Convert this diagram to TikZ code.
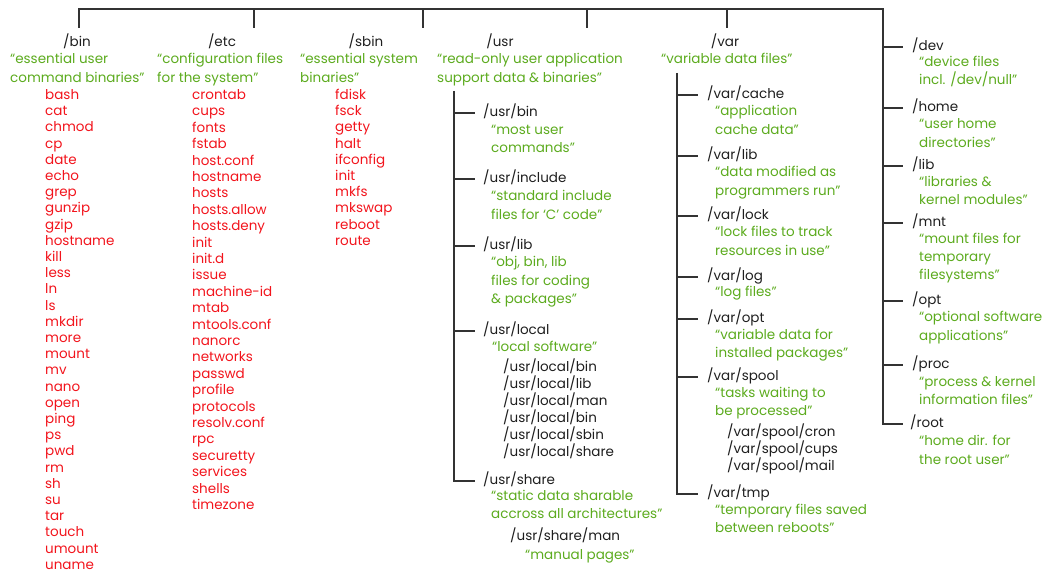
\documentclass[tikz,border=0pt]{standalone}
\usepackage{fontspec}
\setmainfont{Poppins}
\definecolor{gr}{HTML}{5CAB1E}
\definecolor{rd}{HTML}{F2141C}
\definecolor{ln}{HTML}{333333}
\definecolor{tx}{HTML}{1E1E1E}
\tikzset{
  base/.style={inner sep=0pt, font=\fontsize{13.5}{15}\selectfont, text height=10pt, text depth=3pt},
  dir/.style={base, anchor=west, text=tx},
  hdr/.style={base, anchor=center, text=tx},
  desc/.style={base, anchor=west, text=gr},
  itm/.style={base, anchor=west, text=rd},
  br/.style={draw=ln, line width=1.3pt},
}
\begin{document}
\begin{tikzpicture}[x=1pt,y={(0pt,-1pt)}]
\useasboundingbox (0,0) rectangle (1049,575);
% ---------- top bar ----------
\coordinate (d1) at (79,28);
\coordinate (d2) at (254,28);
\coordinate (d3) at (423,28);
\coordinate (d4) at (587,28);
\coordinate (d5) at (727,28);
\coordinate (rtop) at (883,9);
% ---------- /bin ----------
\node[hdr] (bin) at (77,43) {/bin};
\node[desc] (bind1) at (10,60) {“essential user};
\node[desc] (bind2) at (10,79) {command binaries”};
\foreach \t [count=\i from 0] in {bash,cat,chmod,cp,date,echo,grep,gunzip,gzip,hostname,kill,less,ln,ls,mkdir,more,mount,mv,nano,open,ping,ps,pwd,rm,sh,su,tar,touch,umount,uname}
  \node[itm] (bini\i) at (45,96+16.2*\i) {\t};
% ---------- /etc ----------
\node[hdr] (etc) at (222,43) {/etc};
\node[desc] (etcd1) at (157,60) {“configuration files};
\node[desc] (etcd2) at (157,79) {for the system”};
\foreach \t [count=\i from 0] in {crontab,cups,fonts,fstab,host.conf,hostname,hosts,hosts.allow,hosts.deny,init,init.d,issue,machine-id,mtab,mtools.conf,nanorc,networks,passwd,profile,protocols,resolv.conf,rpc,securetty,services,shells,timezone}
  \node[itm] (etci\i) at (192,96+16.4*\i) {\t};
% ---------- /sbin ----------
\node[hdr] (sbin) at (366,43) {/sbin};
\node[desc] (sbind1) at (300,60) {“essential system};
\node[desc] (sbind2) at (300,79) {binaries”};
\foreach \t [count=\i from 0] in {fdisk,fsck,getty,halt,ifconfig,init,mkfs,mkswap,reboot,route}
  \node[itm] (sbini\i) at (335,96+16.2*\i) {\t};
% ---------- /usr ----------
\node[hdr] (usr) at (500,43) {/usr};
\node[desc] (usrd1) at (437,60) {“read-only user application};
\node[desc] (usrd2) at (437,79) {support data \& binaries”};
\coordinate (ut) at (454,91);
\node[dir] (ubin) at (483,113) {/usr/bin};
\node[desc] (ubind1) at (491,131) {“most user};
\node[desc] (ubind2) at (491,149) {commands”};
\node[dir] (uinc) at (483,179) {/usr/include};
\node[desc] (uincd1) at (491,197) {“standard include};
\node[desc] (uincd2) at (491,216) {files for ‘C’ code”};
\node[dir] (ulib) at (483,246) {/usr/lib};
\node[desc] (ulibd1) at (491,263) {“obj, bin, lib};
\node[desc] (ulibd2) at (491,282) {files for coding};
\node[desc] (ulibd3) at (491,300) {\& packages”};
\node[dir] (uloc) at (483,331) {/usr/local};
\node[desc] (ulocd1) at (492,348) {“local software”};
\foreach \t [count=\i from 0] in {/usr/local/bin,/usr/local/lib,/usr/local/man,/usr/local/bin,/usr/local/sbin,/usr/local/share}
  \node[dir] (uloci\i) at (503,368+17*\i) {\t};
\node[dir] (ushr) at (483,481) {/usr/share};
\node[desc] (ushrd1) at (491,497) {“static data sharable};
\node[desc] (ushrd2) at (491,515) {accross all architectures”};
\node[dir] (uman) at (510,537) {/usr/share/man};
\node[desc] (umand) at (525,556) {“manual pages”};
% ---------- /var ----------
\node[hdr] (var) at (725,43) {/var};
\node[desc] (vard1) at (661,60) {“variable data files”};
\coordinate (vt) at (677,73);
\node[dir] (vcache) at (707,95) {/var/cache};
\node[desc] (vcached1) at (715,112) {“application};
\node[desc] (vcached2) at (715,131) {cache data”};
\node[dir] (vlib) at (707,156) {/var/lib};
\node[desc] (vlibd1) at (715,173) {“data modified as};
\node[desc] (vlibd2) at (715,192) {programmers run”};
\node[dir] (vlock) at (707,216) {/var/lock};
\node[desc] (vlockd1) at (715,233) {“lock files to track};
\node[desc] (vlockd2) at (715,252) {resources in use”};
\node[dir] (vlog) at (707,277) {/var/log};
\node[desc] (vlogd1) at (715,293) {“log files”};
\node[dir] (vopt) at (707,319) {/var/opt};
\node[desc] (voptd1) at (715,336) {“variable data for};
\node[desc] (voptd2) at (715,354) {installed packages”};
\node[dir] (vspool) at (707,377) {/var/spool};
\node[desc] (vspoold1) at (715,394) {“tasks waiting to};
\node[desc] (vspoold2) at (715,412) {be processed”};
\foreach \t [count=\i from 0] in {/var/spool/cron,/var/spool/cups,/var/spool/mail}
  \node[dir] (vspooli\i) at (727,433+17*\i) {\t};
\node[dir] (vtmp) at (707,494) {/var/tmp};
\node[desc] (vtmpd1) at (715,511) {“temporary files saved};
\node[desc] (vtmpd2) at (715,529) {between reboots”};
% ---------- right column ----------
\node[dir] (dev) at (912,47) {/dev};
\node[desc] (devd1) at (919,63) {“device files};
\node[desc] (devd2) at (919,81) {incl. /dev/null”};
\node[dir] (home) at (912,108) {/home};
\node[desc] (homed1) at (919,125) {“user home};
\node[desc] (homed2) at (919,144) {directories”};
\node[dir] (lib) at (912,166) {/lib};
\node[desc] (libd1) at (919,183) {“libraries \&};
\node[desc] (libd2) at (919,201) {kernel modules”};
\node[dir] (mnt) at (912,223) {/mnt};
\node[desc] (mntd1) at (919,240) {“mount files for};
\node[desc] (mntd2) at (919,258) {temporary};
\node[desc] (mntd3) at (919,276) {filesystems”};
\node[dir] (opt) at (912,301) {/opt};
\node[desc] (optd1) at (919,318) {“optional software};
\node[desc] (optd2) at (919,337) {applications”};
\node[dir] (proc) at (912,365) {/proc};
\node[desc] (procd1) at (919,383) {“process \& kernel};
\node[desc] (procd2) at (919,401) {information files”};
\node[dir] (root) at (910,424) {/root};
\node[desc] (rootd1) at (919,442) {“home dir. for};
\node[desc] (rootd2) at (919,461) {the root user”};
% ---------- connectors ----------
\draw[br] (d1) |- (rtop) |- ([xshift=-7pt]root.west);
\foreach \d in {d2,d3,d4,d5} \draw[br] (\d) -- (\d |- rtop);
\foreach \n in {dev,home,lib,mnt,opt,proc} \draw[br] (rtop |- \n.west) -- ([xshift=-9pt]\n.west);
\draw[br] (ut) |- ([xshift=-8pt]ushr.west);
\foreach \n in {ubin,uinc,ulib,uloc} \draw[br] (ut |- \n.west) -- ([xshift=-8pt]\n.west);
\draw[br] (vt) |- ([xshift=-9pt]vtmp.west);
\foreach \n in {vcache,vlib,vlock,vlog,vopt,vspool} \draw[br] (vt |- \n.west) -- ([xshift=-9pt]\n.west);
\end{tikzpicture}
\end{document}
